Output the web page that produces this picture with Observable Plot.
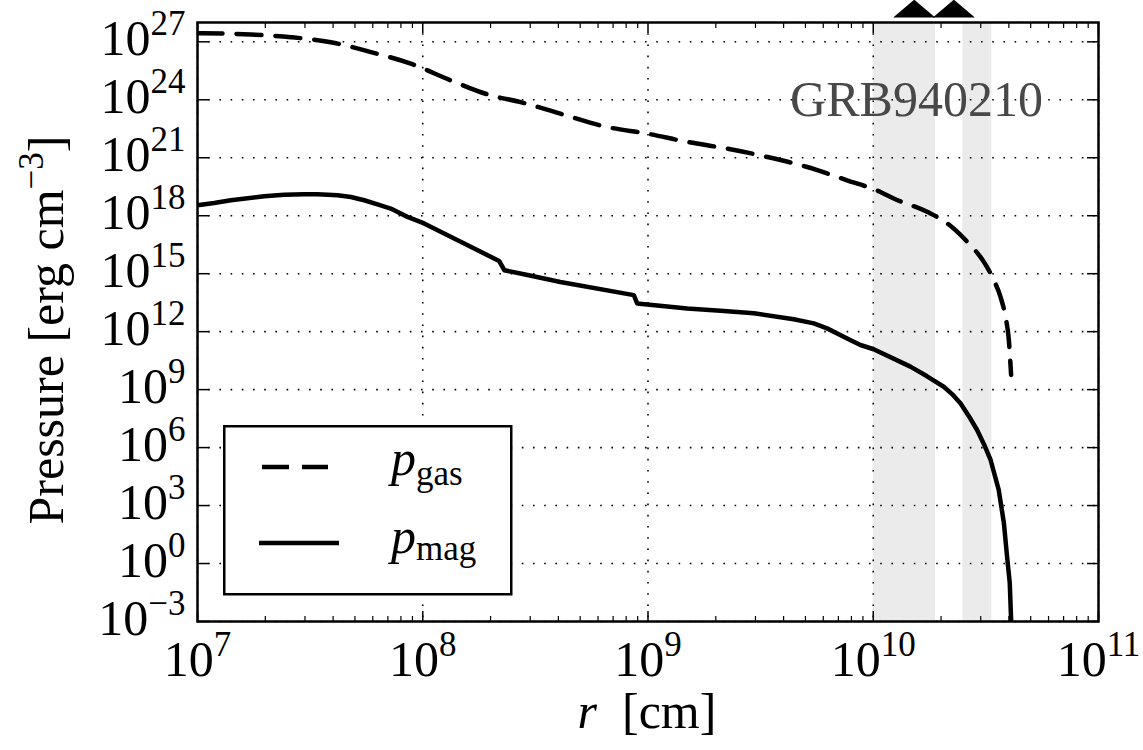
<!DOCTYPE html>
<html><head><meta charset="utf-8">
<script src="https://cdn.jsdelivr.net/npm/d3@7"></script>
<script src="https://cdn.jsdelivr.net/npm/@observablehq/plot@0.6"></script>
<style>
body{margin:0;background:#fff;}
#wrap{position:relative;width:1143px;height:750px;font-family:"Liberation Serif","Times New Roman","DejaVu Serif",serif;overflow:hidden;}
#legend{position:absolute;left:223px;top:425px;}
</style></head><body><div id="wrap"></div>
<script>
// log10 values
const gasLogR = [7.0,7.237,7.414,7.592,7.77,7.947,8.125,8.302,8.434,8.611,8.819,8.996,9.174,9.352,9.53,9.707,9.884,10.032,10.091,10.239,10.329,10.417,10.491,10.535,10.565,10.587,10.602,10.612];
const gasLogP = [27.45,27.38,27.24,26.98,26.47,25.87,25.0,24.23,23.88,23.28,22.59,22.25,21.82,21.47,21.04,20.52,19.83,19.23,18.89,18.2,17.6,16.65,15.61,14.67,13.8,12.77,11.57,9.76];
const magLogR = [7.0,7.074,7.148,7.296,7.385,7.474,7.533,7.622,7.681,7.74,7.799,7.858,7.932,8.006,8.184,8.339,8.362,8.465,8.611,8.937,8.952,9.174,9.322,9.47,9.647,9.736,9.795,9.884,9.943,10.002,10.165,10.239,10.313,10.35,10.387,10.424,10.461,10.491,10.521,10.557,10.58,10.594,10.606,10.612,10.614];
const magLogP = [18.54,18.66,18.8,19.01,19.08,19.11,19.11,19.06,18.97,18.8,18.59,18.37,17.94,17.6,16.56,15.66,15.18,14.93,14.57,13.89,13.46,13.2,13.08,12.95,12.64,12.43,12.17,11.65,11.31,11.09,10.19,9.69,9.15,8.77,8.29,7.64,6.91,6.19,5.36,3.81,2.09,0.37,-1.0,-2.9,-4.0];
const bandStart = [1.0e10, 2.5e10];
const bandEnd = [1.89e10, 3.36e10];
const markerR = [1.52e10, 2.28e10];
const annotation = {r: 1.556e10, p: 1e24, text: "GRB940210"};
const xMajor = [1e7, 1e8, 1e9, 1e10, 1e11];
const yMajor = [1e-3, 1e0, 1e3, 1e6, 1e9, 1e12, 1e15, 1e18, 1e21, 1e24, 1e27];
const xMinor = [7, 8, 9, 10].flatMap(e => [2,3,4,5,6,7,8,9].map(m => m * 10 ** e));
const yDomain = [1e-3, 1e28];

const FONT = '"Liberation Serif", "Times New Roman", "DejaVu Serif", serif';
const gas = gasLogR.map((r, i) => ({r: 10 ** r, p: 10 ** gasLogP[i]}));
const mag = magLogR.map((r, i) => ({r: 10 ** r, p: 10 ** magLogP[i]}));
const bands = bandStart.map((s, i) => ({x1: s, x2: bandEnd[i]}));
const fmt = d => "10^" + Math.round(Math.log10(d));

const flatTriangle = {draw(ctx, size) {
  const r = Math.sqrt(size / Math.PI);
  ctx.moveTo(-r, 0); ctx.lineTo(0, -0.85 * r); ctx.lineTo(r, 0); ctx.closePath();
}};

const plot = Plot.plot({
  width: 1143, height: 750,
  marginLeft: 197, marginRight: 45, marginTop: 22, marginBottom: 129,
  style: {fontFamily: FONT, fontSize: "50px", background: "white", color: "black", overflow: "visible"},
  x: {type: "log", domain: [1e7, 1e11], label: null},
  y: {type: "log", domain: yDomain, label: null},
  marks: [
    Plot.rect(bands, {x1: "x1", x2: "x2", y1: yDomain[0], y2: yDomain[1], fill: "#ebebeb"}),
    Plot.gridX(xMajor, {stroke: "black", strokeOpacity: 1, strokeWidth: 1.6, strokeDasharray: "1.6,9.6"}),
    Plot.gridY(yMajor, {stroke: "black", strokeOpacity: 1, strokeWidth: 1.6, strokeDasharray: "1.6,9.6"}),
    Plot.text([annotation], {x: "r", y: "p", text: "text", fill: "#484848", fontSize: 50, fontFamily: FONT, textAnchor: "middle"}),
    Plot.line(gas, {x: "r", y: "p", stroke: "black", strokeWidth: 4.5, strokeDasharray: "25,14", curve: "monotone-x", clip: true}),
    Plot.line(mag, {x: "r", y: "p", stroke: "black", strokeWidth: 4.5, strokeLinejoin: "round", clip: true}),
    Plot.axisX(xMajor, {anchor: "bottom", tickSize: -10, tickFormat: () => "", label: null, strokeWidth: 1.5}),
    Plot.axisX(xMajor, {anchor: "top", tickSize: -10, tickFormat: () => "", label: null, strokeWidth: 1.5}),
    Plot.axisX(xMinor, {anchor: "bottom", tickSize: -5, tickFormat: () => "", label: null, strokeWidth: 1.2}),
    Plot.axisX(xMinor, {anchor: "top", tickSize: -5, tickFormat: () => "", label: null, strokeWidth: 1.2}),
    Plot.axisY(yMajor, {anchor: "left", tickSize: -12, tickFormat: () => "", label: null, strokeWidth: 1.5}),
    Plot.axisY(yMajor, {anchor: "right", tickSize: -12, tickFormat: () => "", label: null, strokeWidth: 1.5}),
    Plot.axisX(xMajor, {anchor: "bottom", tickSize: 0, tickPadding: 19, tickFormat: fmt, label: null, fontSize: 50, fontFamily: FONT}),
    Plot.axisY(yMajor, {anchor: "left", tickSize: 0, tickPadding: 12, dy: -3, tickFormat: fmt, label: null, fontSize: 50, fontFamily: FONT}),
    Plot.frame({stroke: "black", strokeWidth: 2.5}),
    Plot.dot(markerR, {x: d => d, y: yDomain[1], dy: -5, r: 21, symbol: flatTriangle, fill: "black", stroke: "none"})
  ]
});

const ns = "http://www.w3.org/2000/svg";
plot.querySelectorAll('g[aria-label="x-axis tick label"] text, g[aria-label="y-axis tick label"] text').forEach(t => {
  const s = t.textContent;
  if (!s.includes("^")) return;
  const [b, e] = s.split("^");
  t.textContent = "";
  const t1 = document.createElementNS(ns, "tspan"); t1.textContent = b;
  const t2 = document.createElementNS(ns, "tspan"); t2.textContent = e.replace("-", "\u2212");
  t2.setAttribute("dy", "-20"); t2.setAttribute("font-size", "35");
  t.append(t1, t2);
});

function addText(parent, attrs, parts) {
  const t = document.createElementNS(ns, "text");
  for (const k in attrs) t.setAttribute(k, attrs[k]);
  t.style.fontFamily = FONT;
  for (const p of parts) {
    const s = document.createElementNS(ns, "tspan");
    s.textContent = p.text;
    for (const k in (p.attrs || {})) s.setAttribute(k, p.attrs[k]);
    t.append(s);
  }
  parent.append(t);
  return t;
}
addText(plot, {x: 647, y: 728, "text-anchor": "middle", "font-size": 50, fill: "black"},
  [{text: "r", attrs: {"font-style": "italic"}}, {text: "\u2002[cm]"}]);
addText(plot, {transform: "translate(63,330) rotate(-90)", "text-anchor": "middle", "font-size": 50, fill: "black"},
  [{text: "Pressure [erg cm"}, {text: "\u22123", attrs: {dy: -20, "font-size": 35}}, {text: "]", attrs: {dy: 20}}]);

document.getElementById("wrap").append(plot);

const lg = document.createElementNS(ns, "svg");
lg.setAttribute("id", "legend"); lg.setAttribute("width", 290); lg.setAttribute("height", 171);
lg.style.fontFamily = FONT;
lg.innerHTML = `<rect x="1.25" y="1.25" width="287" height="168" fill="white" stroke="black" stroke-width="2.5"/>
<line x1="39" x2="105" y1="42" y2="42" stroke="black" stroke-width="4.5" stroke-dasharray="27,13"/>
<line x1="36" x2="116" y1="118" y2="118" stroke="black" stroke-width="4.5"/>
<text x="168" y="50" font-size="50"><tspan font-style="italic">p</tspan><tspan font-size="35" dy="10">gas</tspan></text>
<text x="168" y="128" font-size="50"><tspan font-style="italic">p</tspan><tspan font-size="35" dy="7">mag</tspan></text>`;
document.getElementById("wrap").append(lg);
</script>
</body></html>
